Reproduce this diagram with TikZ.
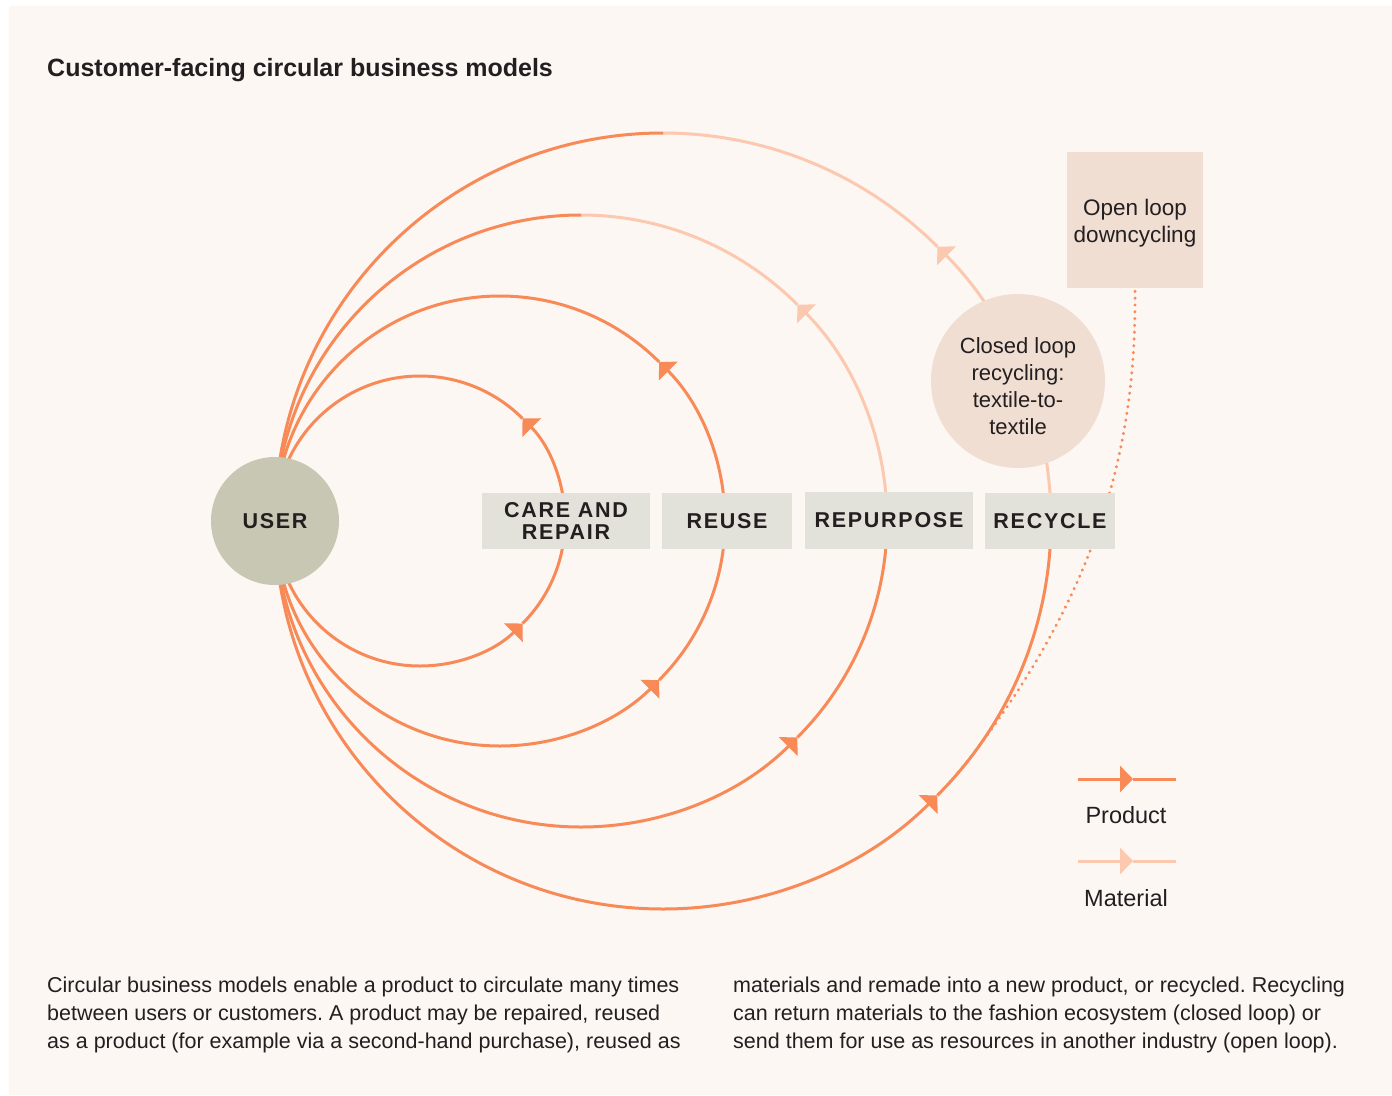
\documentclass[tikz,border=0pt]{standalone}
\usepackage{fontspec}
\setmainfont{Liberation Sans}
\newfontfamily\lblfont[LetterSpace=8]{Liberation Sans}
\usetikzlibrary{arrows.meta}
\definecolor{bgc}{HTML}{FCF7F3}
\definecolor{prodc}{HTML}{F88A58}
\definecolor{matc}{HTML}{FCC8AF}
\definecolor{userc}{HTML}{C8C7B4}
\definecolor{boxc}{HTML}{E3E2DA}
\definecolor{pinkc}{HTML}{F0DED3}
\definecolor{txtc}{HTML}{231F20}
\pgfdeclarelayer{bg}
\pgfsetlayers{bg,main}
\frenchspacing
\begin{document}
\begin{tikzpicture}[x=1pt,y=1pt,
  prod/.style={draw=prodc, line width=3pt},
  matl/.style={draw=matc, line width=3pt},
  tip/.style={-{Triangle[length=13pt,width=26pt]}},
  stage/.style={fill=boxc, inner sep=0pt, minimum height=56pt, text=txtc, align=center,
    font=\lblfont\bfseries\fontsize{21.5}{22}\selectfont},
  pinknode/.style={fill=pinkc, inner sep=0pt},
  pinktxt/.style={text=txtc, inner sep=0pt, align=center, font=\fontsize{22}{27}\selectfont},
  plain/.style={text=txtc, inner sep=0pt, font=\fontsize{21.5}{28}\selectfont},
  legtxt/.style={text=txtc, inner sep=0pt, anchor=base, font=\fontsize{23.5}{26}\selectfont},
  dotline/.style={draw=prodc, line width=3pt, line cap=round, dash pattern=on 0.4pt off 6.4pt}
]
\useasboundingbox (0,0) rectangle (1392,-1095);
\begin{pgfonlayer}{bg}
\fill[white] (0,0) rectangle (1392,-1095);
\fill[bgc] (9,-6) rectangle (1392,-1095);
\end{pgfonlayer}

% title
\node[plain, anchor=base west, font=\bfseries\fontsize{25}{30}\selectfont] (title) at (47,-76) {Customer-facing circular business models};

% main nodes
\node[circle, fill=userc, minimum size=128pt, inner sep=0pt, text=txtc,
  font=\lblfont\bfseries\fontsize{21.5}{22}\selectfont] (user) at (275,-521) {USER};
\node[stage, minimum width=168pt] (care) at (566,-521) {CARE AND\\REPAIR};
\node[stage, minimum width=130pt] (reuse) at (727,-521) {REUSE};
\node[stage, minimum width=168pt, minimum height=57pt] (repurpose) at (889,-520.5) {REPURPOSE};
\node[stage, minimum width=130pt] (recycle) at (1050,-521) {RECYCLE};
\node[pinknode, circle, minimum size=174pt,
  label={[pinktxt, yshift=-5pt]center:{Closed loop\\recycling:\\textile-to-\\textile}}] (closed) at (1018,-381) {};
\node[pinknode, minimum width=136pt, minimum height=136pt,
  label={[pinktxt, yshift=-3pt, font=\fontsize{22.5}{27}\selectfont]center:{Open loop\\downcycling}}] (open) at (1135,-220) {};

% loops
\begin{pgfonlayer}{bg}
\foreach \cx/\r/\m in {420/145/prod, 500/225/prod, 581/306/matl, 663/388/matl} {
  \coordinate (c) at (\cx,-521);
  \draw[prod,tip] ([shift={(180:\r pt)}]c) arc[start angle=180,end angle=315,radius=\r pt];
  \draw[prod] ([shift={(315:\r pt)}]c) arc[start angle=315,end angle=360,radius=\r pt];
  \draw[\m,tip] ([shift={(0:\r pt)}]c) arc[start angle=0,end angle=45,radius=\r pt];
  \draw[\m] ([shift={(45:\r pt)}]c) arc[start angle=45,end angle=90,radius=\r pt];
  \draw[prod] ([shift={(90:\r pt)}]c) arc[start angle=90,end angle=180,radius=\r pt];
}
\coordinate (merge) at ([shift={(-41:388pt)}]663,-521);
\draw[dotline]
  ([yshift=-3pt]open.south) .. controls (1136,-420) and (1113,-582) .. (merge);
\end{pgfonlayer}

% legend
\coordinate (p0) at (1078,-779);
\coordinate (p1) at (1133,-779);
\coordinate (p2) at (1176,-779);
\draw[prod,tip] (p0) -- (p1);
\draw[prod] (p1) -- (p2);
\node[legtxt] (prodlbl) at (1126,-823) {Product};
\coordinate (m0) at (1078,-861);
\coordinate (m1) at (1133,-861);
\coordinate (m2) at (1176,-861);
\draw[matl,tip] (m0) -- (m1);
\draw[matl] (m1) -- (m2);
\node[legtxt] (matlbl) at (1126,-906) {Material};

% body text
\node[plain, anchor=base west, align=left] (body1) at (47,-1048) {Circular business models enable a product to circulate many times\\between users or customers. A product may be repaired, reused\\as a product (for example via a second-hand purchase), reused as};
\node[plain, anchor=base west, align=left] (body2) at (733,-1048) {materials and remade into a new product, or recycled. Recycling\\can return materials to the fashion ecosystem (closed loop) or\\send them for use as resources in another industry (open loop).};
\end{tikzpicture}
\end{document}
